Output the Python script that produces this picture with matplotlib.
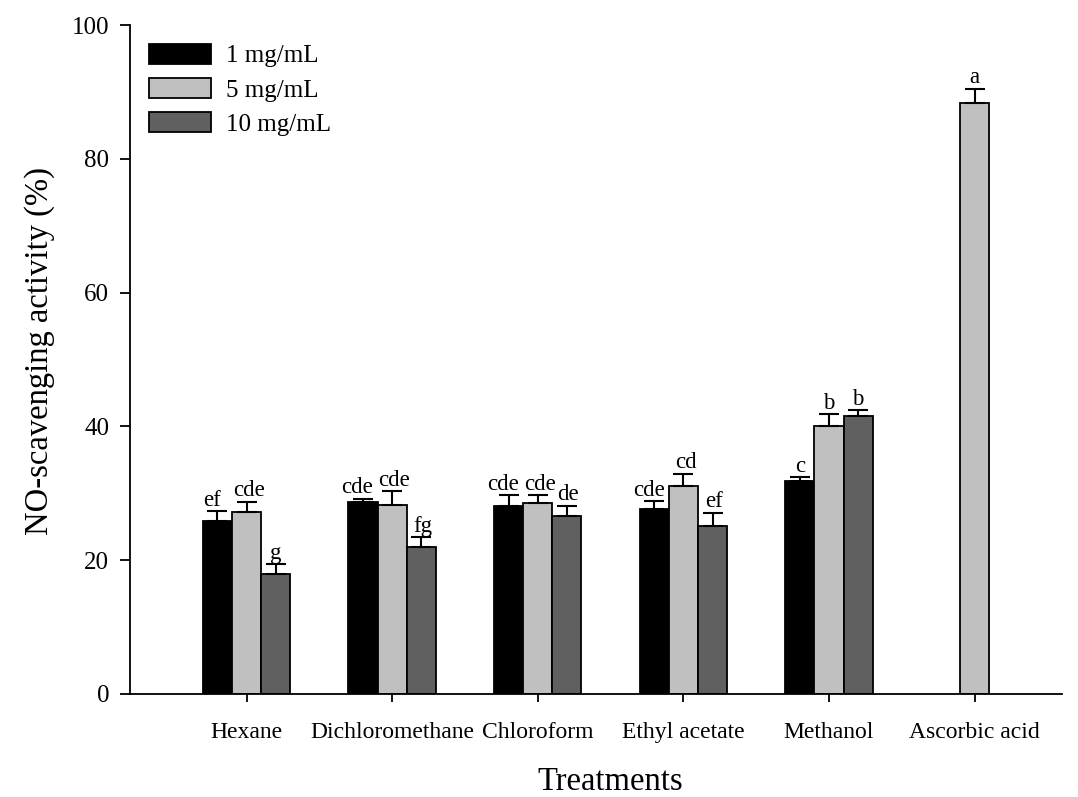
import matplotlib
matplotlib.use("Agg")
import matplotlib.pyplot as plt
import numpy as np

categories = ["Hexane", "Dichloromethane", "Chloroform", "Ethyl acetate", "Methanol", "Ascorbic acid"]
series_names = ["1 mg/mL", "5 mg/mL", "10 mg/mL"]
vals_1 = [25.9, 28.7, 28.1, 27.6, 31.8, np.nan]
vals_5 = [27.2, 28.3, 28.6, 31.1, 40.1, 88.3]
vals_10 = [18.0, 21.9, 26.6, 25.1, 41.5, np.nan]
err_1 = [1.4, 0.5, 1.6, 1.2, 0.6, np.nan]
err_5 = [1.5, 2.0, 1.1, 1.8, 1.7, 2.2]
err_10 = [1.4, 1.5, 1.5, 2.0, 0.9, np.nan]
lett_1 = ["ef", "cde", "cde", "cde", "c", ""]
lett_5 = ["cde", "cde", "cde", "cd", "b", "a"]
lett_10 = ["g", "fg", "de", "ef", "b", ""]

colors = ["#000000", "#c0c0c0", "#606060"]

plt.rcParams['font.family'] = ['Liberation Serif', 'DejaVu Serif']

fig = plt.figure(figsize=(10.78, 7.97), dpi=100)
ax = fig.add_axes([130/1078, 1-694/797, (1062-130)/1078, (694-25)/797])

x = np.arange(len(categories))
w = 0.2
all_vals = [vals_1, vals_5, vals_10]
all_err = [err_1, err_5, err_10]
all_lett = [lett_1, lett_5, lett_10]
# small horizontal nudges (points) so neighbouring letter labels do not collide
nudge = [-4.0, 1.5, 1.0]
for i in range(3):
    xs = x + (i - 1) * w
    v = np.array(all_vals[i], dtype=float)
    e = np.array(all_err[i], dtype=float)
    mask = ~np.isnan(v)
    ax.bar(xs[mask], v[mask], width=w, color=colors[i], edgecolor='black',
           linewidth=1.3, label=series_names[i], zorder=2)
    ax.errorbar(xs[mask], v[mask], yerr=[np.zeros(mask.sum()), e[mask]], fmt='none',
                ecolor='black', elinewidth=1.5, capsize=7, capthick=1.5, zorder=3)
    for xi, vi, ei, lt in zip(xs[mask], v[mask], e[mask], np.array(all_lett[i])[mask]):
        if lt:
            dx = nudge[i] if len(lt) >= 2 else 0.0
            ax.annotate(lt, (xi, vi + ei), xytext=(dx, 0.5), textcoords='offset points',
                        ha='center', va='bottom', fontsize=16.5)

ax.set_xlim(-0.8, 5.6)
ax.set_ylim(0, 100)
ax.set_yticks([0, 20, 40, 60, 80, 100])
ax.set_xticks(x)
ax.set_xticklabels(categories, fontsize=17)
ax.tick_params(axis='y', labelsize=18, length=7, width=1.3, pad=8, direction='out')
ax.tick_params(axis='x', length=6, width=1.3, pad=14, direction='out')
for s in ['top', 'right']:
    ax.spines[s].set_visible(False)
for s in ['left', 'bottom']:
    ax.spines[s].set_linewidth(1.3)

ax.set_xlabel("Treatments", fontsize=23.5, labelpad=17)
ax.xaxis.label.set_x(0.515)
ax.set_ylabel("NO-scavenging activity (%)", fontsize=23.5, labelpad=12)
ax.yaxis.label.set_y(0.513)

leg = ax.legend(loc='upper left', bbox_to_anchor=(0.0, 1.0), frameon=False, fontsize=18,
                handlelength=2.5, handleheight=0.85, labelspacing=0.42, handletextpad=0.6,
                borderaxespad=0.45, borderpad=0.3)

fig.savefig("out.png", dpi=100)
